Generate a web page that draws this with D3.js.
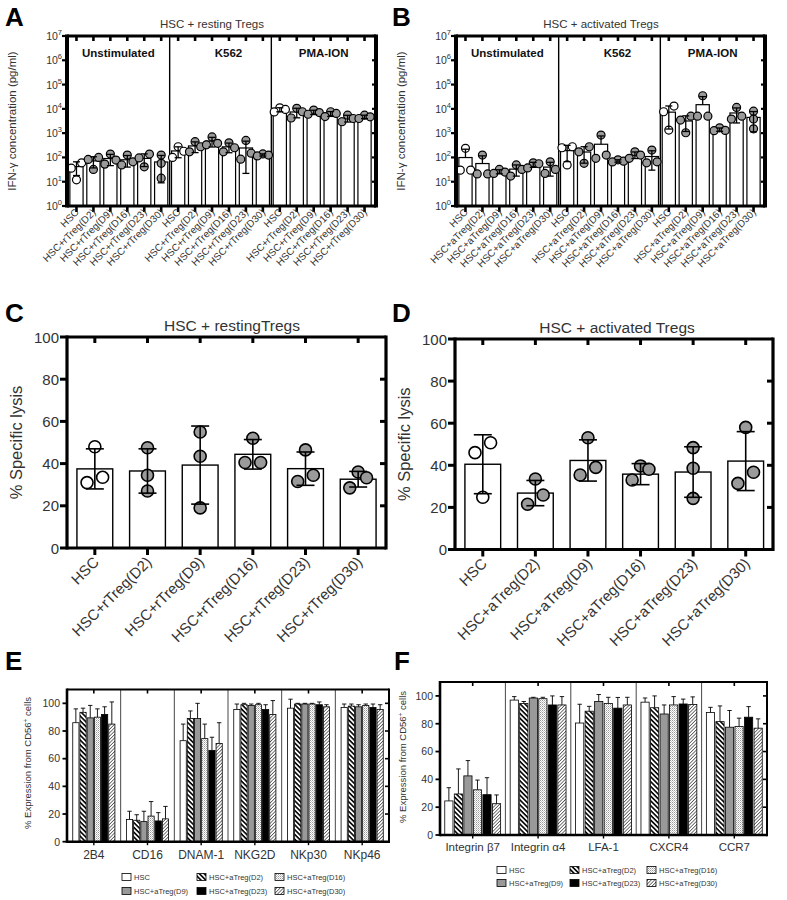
<!DOCTYPE html>
<html><head><meta charset="utf-8">
<script src="https://cdn.jsdelivr.net/npm/d3@7"></script>
<style>
body{margin:0;background:#fff}
svg{display:block}
text{font-family:"Liberation Sans",Arial,Helvetica,sans-serif}
</style>
</head><body>
<svg id="c" width="787" height="900"></svg>
<script>
// ---------------- DATA ----------------
const sections = ["Unstimulated", "K562", "PMA-ION"];
const restLabels = ["HSC","HSC+rTreg(D2)","HSC+rTreg(D9)","HSC+rTreg(D16)","HSC+rTreg(D23)","HSC+rTreg(D30)"];
const actLabels  = ["HSC","HSC+aTreg(D2)","HSC+aTreg(D9)","HSC+aTreg(D16)","HSC+aTreg(D23)","HSC+aTreg(D30)"];
const logTicks = [1, 10, 100, 1e3, 1e4, 1e5, 1e6, 1e7];
const pctTicks = [0, 20, 40, 60, 80, 100];

// Panel A: IFN-γ, HSC + resting Tregs (Unstimulated | K562 | PMA-ION)
const ifnRestMean = [42, 72, 90, 80, 91, 65,  185, 297, 470, 273, 245, 127,  9333, 7433, 7300, 6300, 4150, 4733];
const ifnRestSD   = [24, 35, 44, 40, 49, 56,  88, 139, 201, 117, 223, 13,  1756, 3153, 1473, 1411, 1281, 750];
const ifnRestPts  = [[60,36,12],[100,83,32],[138,53,78],[125,49,66],[138,95,41],[125,57,14],
                     [275,180,100],[445,275,170],[700,380,330],[400,250,170],[500,150,85],[140,125,115],
                     [11000,9500,7500],[10500,4200,7600],[8900,7000,6000],[7600,6500,4800],[5500,4000,2950],[5500,4700,4000]];
// Panel B: IFN-γ, HSC + activated Tregs
const ifnActMean = [99, 56, 26, 33, 51, 40,  191, 167, 349, 72, 129, 109,  7313, 3167, 14867, 1407, 6767, 4433];
const ifnActSD   = [119, 60, 5, 16, 12, 23,  124, 109, 417, 8, 39, 79,  5835, 1996, 17089, 220, 4143, 3296];
const ifnActPts  = [[236,30,30],[125,21,21],[32,25,22],[49,17,32],[60,55,37],[66,22,32],
                    [275,250,49],[275,170,57],[830,125,92],[80,70,65],[170,125,92],[200,66,60],
                    [13000,7600,1340],[5000,3460,1040],[34600,5000,5000],[1660,1260,1300],[11500,3800,5000],[8000,3800,1500]];

// Panel C: % specific lysis, resting Tregs
const lysisRestMean = [37.5, 36.5, 39.3, 44.4, 37.6, 32.6];
const lysisRestSD   = [9.5, 10.5, 18.5, 7, 7.9, 3.7];
const lysisRestPts  = [[48,31,33.5],[47.5,34.5,27],[55,43.5,19],[52,40.5,40.5],[46.5,31.5,34.5],[36,28.5,33.3]];
// Panel D: % specific lysis, activated Tregs
const lysisActMean = [40.5, 26.8, 42.3, 35.8, 36.8, 42];
const lysisActSD   = [14, 6, 9.8, 5, 12, 14];
const lysisActPts  = [[50.7,46,24.8],[33.5,25.9,21.5],[53.1,39,35.4],[39.7,38.1,33],[48.4,38.6,24.3],[58,36.7,31.4]];

// Panel E: NK receptor expression
const seriesNames = ["HSC","HSC+aTreg(D2)","HSC+aTreg(D9)","HSC+aTreg(D16)","HSC+aTreg(D23)","HSC+aTreg(D30)"];
const legendOrder = [0, 1, 3, 2, 4, 5];
const nkMarkers = ["2B4","CD16","DNAM-1","NKG2D","NKp30","NKp46"];
const nkHSC = [86, 16, 73, 95.5, 96.5, 97],    nkHSCsd = [10, 6, 12, 4, 6.5, 2.5];
const nkD2  = [93.5, 15.5, 89, 99, 99.5, 98],  nkD2sd  = [3, 4, 5.5, 1, 0.5, 1.5];
const nkD9  = [89.5, 14.5, 89, 98.5, 99.5, 97.5], nkD9sd = [9, 7.5, 11, 1, 0.5, 1.5];
const nkD16 = [90, 18.5, 74.5, 99, 99.5, 98.5], nkD16sd = [6, 10.5, 10.5, 1, 0.5, 1];
const nkD23 = [92, 15, 66, 95.5, 99, 97],      nkD23sd = [5.5, 6, 9.5, 3.5, 2, 2.5];
const nkD30 = [85, 16.5, 71, 92, 97.5, 95.5],  nkD30sd = [16, 9, 15, 10, 1.5, 3.5];

// Panel F: homing receptor expression
const homeMarkers = ["Integrin β7","Integrin α4","LFA-1","CXCR4","CCR7"];
const hmHSC = [24.5, 97, 80.5, 95.5, 88],  hmHSCsd = [9.5, 2.5, 13.5, 3, 3.8];
const hmD2  = [29.5, 94.5, 89, 91.5, 81.5], hmD2sd = [18, 1.5, 3.5, 8.5, 11.3];
const hmD9  = [42.5, 98.5, 96, 87, 77.5],  hmD9sd  = [11, 0.5, 5, 6.5, 12];
const hmD16 = [32.5, 98, 94.5, 93.5, 78],  hmD16sd = [7, 1, 4.5, 6, 6];
const hmD23 = [29, 93.5, 91.2, 94.2, 84.7], hmD23sd = [12.2, 6.5, 7.7, 3.5, 7.6];
const hmD30 = [22.5, 93.5, 93.5, 93.8, 76.8], hmD30sd = [6.3, 6, 5.5, 5.5, 6.7];

// ---------------- DRAW ----------------
const svg = d3.select("#c");
const TXT = "#333";
const defs = svg.append("defs");
(function(){
  let p = defs.append("pattern").attr("id","pD2").attr("patternUnits","userSpaceOnUse")
    .attr("width",3.4).attr("height",3.4).attr("patternTransform","rotate(45)");
  p.append("rect").attr("width",3.4).attr("height",3.4).attr("fill","#fff");
  p.append("rect").attr("width",3.4).attr("height",1.6).attr("fill","#000");
  p = defs.append("pattern").attr("id","pD30").attr("patternUnits","userSpaceOnUse")
    .attr("width",2.4).attr("height",2.4).attr("patternTransform","rotate(-45)");
  p.append("rect").attr("width",2.4).attr("height",2.4).attr("fill","#fff");
  p.append("rect").attr("width",2.4).attr("height",0.8).attr("fill","#555");
  p = defs.append("pattern").attr("id","pD16").attr("patternUnits","userSpaceOnUse")
    .attr("width",2).attr("height",2);
  p.append("rect").attr("width",2).attr("height",2).attr("fill","#fff");
  p.append("rect").attr("width",1).attr("height",1).attr("fill","#9a9a9a");
  p.append("rect").attr("x",1).attr("y",1).attr("width",1).attr("height",1).attr("fill","#c8c8c8");
})();
const seriesFill = ["#fff","url(#pD2)","#999","url(#pD16)","#000","url(#pD30)"];

function line(g, x1, y1, x2, y2, w, col){
  g.append("line").attr("x1",x1).attr("y1",y1).attr("x2",x2).attr("y2",y2)
    .attr("stroke",col||"#000").attr("stroke-width",w).attr("stroke-linecap","butt");
}
function letter(t, x, y){
  svg.append("text").attr("x",x).attr("y",y).text(t)
    .attr("font-size",26).attr("font-weight","bold").attr("fill","#000");
}

// Spread overlapping points symmetrically around the bar centre (Prism-like)
function jitter(vals, y, r){
  const off = vals.map(()=>0);
  const idx = vals.map((v,i)=>i).sort((a,b)=>vals[b]-vals[a]);
  const py = vals.map(v=>y(v));
  const clusters = [[idx[0]]];
  for (let k=1;k<idx.length;k++){
    if (Math.abs(py[idx[k]]-py[idx[k-1]]) < 2*r*0.95) clusters[clusters.length-1].push(idx[k]);
    else clusters.push([idx[k]]);
  }
  clusters.forEach(c=>{
    if (c.length===2){ off[c[0]] = 1.3*r; off[c[1]] = -1.3*r; }
    else if (c.length===3){ off[c[0]] = 0; off[c[1]] = 1.4*r; off[c[2]] = -1.4*r; }
  });
  return off;
}

// ---------- IFN panels (A, B) ----------
function ifnPanel(o){
  const g = svg.append("g");
  const keys = d3.range(18);
  const x = d3.scaleBand().domain(keys).range(o.xr).paddingInner(0.22).paddingOuter(0.11);
  const y = d3.scaleLog().domain([1, 1e7]).range([o.B, o.T]);
  const bw = x.bandwidth();
  g.selectAll(".bar").data(keys).join("rect")
    .attr("x", i=>x(i)).attr("y", i=>y(o.mean[i])).attr("width", bw)
    .attr("height", i=>o.B - y(o.mean[i]))
    .attr("fill","#fff").attr("stroke","#000").attr("stroke-width",1.2);
  [6, 12].forEach(k=>{
    const xx = (x(k-1) + bw + x(k))/2;
    line(g, xx, o.T, xx, o.B, 1.4);
  });
  sections.forEach((s, si)=>{
    const x0 = si===0 ? o.L : (x(si*6-1)+bw+x(si*6))/2;
    const x1 = si===2 ? o.R : (x(si*6+5)+bw+x(si*6+6))/2;
    g.append("text").attr("x",(x0+x1)/2 + (si===1 ? 8 : 0)).attr("y",o.T+21).attr("text-anchor","middle")
      .attr("font-size",11.5).attr("font-weight","bold").attr("fill","#111").text(s);
  });
  const r = 4;
  keys.forEach(i=>{
    const offs = jitter(o.pts[i], y, r);
    o.pts[i].forEach((v,j)=>{
      g.append("circle").attr("cx", x(i)+bw/2+offs[j]).attr("cy", y(v)).attr("r", r)
        .attr("fill", i%6===0 ? "#fff" : "#9a9a9a").attr("stroke","#000").attr("stroke-width",1.2);
    });
  });
  keys.forEach(i=>{
    const cx = x(i)+bw/2, hi = o.mean[i]+o.sd[i], lo = o.mean[i]-o.sd[i];
    const yHi = y(hi), yLo = lo > 1 ? y(lo) : y(o.mean[i]);
    line(g, cx, yHi, cx, yLo, 1.3);
    line(g, cx-3.5, yHi, cx+3.5, yHi, 1.3);
    if (lo > 1) line(g, cx-3.5, yLo, cx+3.5, yLo, 1.3);
  });
  line(g, o.L, o.T-1.5, o.L, o.B+1.5, 4);
  line(g, o.R, o.T-1.5, o.R, o.B+1.5, 4);
  line(g, o.L, o.T, o.R, o.T, 3);
  line(g, o.L, o.B, o.R, o.B, 3);
  keys.forEach(i=>{
    const cx = x(i)+bw/2;
    line(g, cx, o.B, cx, o.B+6, 2.6);
    line(g, cx, o.T, cx, o.T+5, 2.6);
  });
  logTicks.forEach(t=>{
    line(g, o.L-5, y(t), o.L, y(t), 2.2);
    line(g, o.R, y(t), o.R-4, y(t), 2.2);
    const tx = g.append("text").attr("x", o.L-5).attr("y", y(t)+4).attr("text-anchor","end")
      .attr("font-size",10.5).attr("fill",TXT);
    tx.append("tspan").text("10");
    tx.append("tspan").attr("dy",-5).attr("font-size",7.5).text(Math.round(Math.log10(t)));
  });
  keys.forEach(i=>{
    const cx = x(i)+bw/2 + 3, cy = o.B + 7;
    g.append("text").attr("transform",`translate(${cx},${cy}) rotate(-45)`)
      .attr("text-anchor","end").attr("font-size",10).attr("fill",TXT).text(o.labels[i%6]);
  });
  g.append("text").attr("x",o.titleX).attr("y",28).attr("text-anchor","middle")
    .attr("font-size",11.5).attr("fill",TXT).text(o.title);
  g.append("text").attr("transform",`translate(${o.L-51},${(o.T+o.B)/2}) rotate(-90)`)
    .attr("text-anchor","middle").attr("font-size",11.5).attr("fill",TXT)
    .text("IFN-γ concentration (pg/ml)");
}

ifnPanel({L:67, R:376, T:36, B:206, xr:[68,373], mean:ifnRestMean, sd:ifnRestSD, pts:ifnRestPts,
  labels:restLabels, title:"HSC + resting Tregs", titleX:212});
ifnPanel({L:456, R:765, T:36, B:206, xr:[457,762], mean:ifnActMean, sd:ifnActSD, pts:ifnActPts,
  labels:actLabels, title:"HSC + activated Tregs", titleX:601});
letter("A", 5, 26); letter("B", 392, 26);

// ---------- Lysis panels (C, D) ----------
function lysisPanel(o){
  const g = svg.append("g");
  const x = d3.scaleBand().domain(o.labels).range(o.xr).paddingInner(0.32).paddingOuter(0.16);
  const y = d3.scaleLinear().domain([0,100]).range([o.B, o.T]);
  const bw = x.bandwidth();
  g.selectAll(".bar").data(o.labels).join("rect")
    .attr("x", d=>x(d)).attr("y", (d,i)=>y(o.mean[i])).attr("width", bw)
    .attr("height", (d,i)=>o.B - y(o.mean[i]))
    .attr("fill","#fff").attr("stroke","#000").attr("stroke-width",1.4);
  const r = 6;
  o.labels.forEach((d,i)=>{
    const offs = jitter(o.pts[i], y, r);
    o.pts[i].forEach((v,j)=>{
      g.append("circle").attr("cx", x(d)+bw/2+offs[j]).attr("cy", y(v)).attr("r", r)
        .attr("fill", i===0 ? "#fff" : "#9a9a9a").attr("stroke","#000").attr("stroke-width",1.6);
    });
  });
  o.labels.forEach((d,i)=>{
    const cx = x(d)+bw/2, yHi = y(o.mean[i]+o.sd[i]), yLo = y(o.mean[i]-o.sd[i]);
    line(g, cx, yHi, cx, yLo, 1.6);
    line(g, cx-9, yHi, cx+9, yHi, 1.6);
    line(g, cx-9, yLo, cx+9, yLo, 1.6);
  });
  line(g, o.L, o.T-1.5, o.L, o.B+1.5, 3.2);
  line(g, o.R, o.T-1.5, o.R, o.B+1.5, 3.2);
  line(g, o.L, o.T, o.R, o.T, 3.2);
  line(g, o.L, o.B, o.R, o.B, 3.2);
  o.labels.forEach(d=>{
    const cx = x(d)+bw/2;
    line(g, cx, o.B, cx, o.B+7, 3);
    line(g, cx, o.T, cx, o.T+6, 3);
    g.append("text").attr("transform",`translate(${cx+5},${o.B+15}) rotate(-45)`)
      .attr("text-anchor","end").attr("font-size",15).attr("fill",TXT).text(d);
  });
  pctTicks.forEach(t=>{
    line(g, o.L-7, y(t), o.L, y(t), 3);
    if (t>0 && t<100) line(g, o.R, y(t), o.R-6, y(t), 3);
    g.append("text").attr("x", o.L-8).attr("y", y(t)+5.5).attr("text-anchor","end")
      .attr("font-size",15).attr("fill",TXT).text(t);
  });
  g.append("text").attr("x",o.titleX).attr("y",o.T-6).attr("text-anchor","middle")
    .attr("font-size",15.5).attr("fill",TXT).text(o.title);
  g.append("text").attr("transform",`translate(${o.L-45},${(o.T+o.B)/2}) rotate(-90)`)
    .attr("text-anchor","middle").attr("font-size",16.5).attr("fill",TXT).text("% Specific lysis");
}
lysisPanel({L:67, R:386, T:337, B:548, xr:[68.5,384.5], mean:lysisRestMean, sd:lysisRestSD, pts:lysisRestPts,
  labels:restLabels, title:"HSC + restingTregs", titleX:232});
lysisPanel({L:455, R:773, T:339, B:549.5, xr:[456.5,772], mean:lysisActMean, sd:lysisActSD, pts:lysisActPts,
  labels:actLabels, title:"HSC + activated Tregs", titleX:617});
letter("C", 5, 322); letter("D", 392, 322);

// ---------- Expression panels (E, F) ----------
function exprPanel(o){
  const g = svg.append("g");
  const x0 = d3.scaleBand().domain(o.markers).range([o.L, o.R]).padding(0);
  const x1 = d3.scaleBand().domain(d3.range(6)).range([0, x0.bandwidth()])
    .paddingInner(o.pi).paddingOuter(o.po);
  const y = d3.scaleLinear().domain([0,110]).range([o.B, o.T]);
  const bw = x1.bandwidth();
  o.markers.slice(1).forEach(m=>line(g, x0(m), o.T, x0(m), o.B, 0.9, "#333"));
  o.series.forEach((s, si)=>{
    o.markers.forEach((m, mi)=>{
      const bx = x0(m) + x1(si), v = s.mean[mi], e = v + s.sd[mi];
      const cx = bx + bw/2;
      line(g, cx, y(v), cx, y(e), 0.9);
      line(g, cx-2.2, y(e), cx+2.2, y(e), 0.9);
      g.append("rect").attr("x", bx).attr("y", y(v)).attr("width", bw).attr("height", o.B - y(v))
        .attr("fill", seriesFill[si]).attr("stroke","#000").attr("stroke-width",0.8);
    });
  });
  line(g, o.L, o.T-1, o.L, o.B+1.2, 2.6);
  line(g, o.R, o.T-1, o.R, o.B+1.2, 2);
  line(g, o.L, o.T, o.R, o.T, 2);
  line(g, o.L, o.B, o.R, o.B, 2.6);
  o.markers.forEach(m=>{
    const cx = x0(m) + x0.bandwidth()/2;
    line(g, cx, o.T, cx, o.T+4, 1.6);
    line(g, cx, o.B, cx, o.B+3.5, 1.4);
    g.append("text").attr("x", cx).attr("y", o.labelY).attr("text-anchor","middle")
      .attr("font-size",o.labelFs).attr("fill",TXT).text(m);
  });
  pctTicks.forEach(t=>{
    line(g, o.L-4.5, y(t), o.L, y(t), 1.8);
    if (t>0) line(g, o.R, y(t), o.R-4, y(t), 1.6);
    g.append("text").attr("x", o.L-7).attr("y", y(t)+3.8).attr("text-anchor","end")
      .attr("font-size",10.5).attr("fill",TXT).text(t);
  });
  const yl = g.append("text").attr("transform",`translate(${o.ylX},${o.ylY}) rotate(-90)`)
    .attr("text-anchor","middle").attr("font-size",9.5).attr("fill",TXT);
  yl.append("tspan").text("% Expression from CD56");
  yl.append("tspan").attr("dy",-3.5).attr("font-size",6.5).text("+");
  yl.append("tspan").attr("dy",3.5).text(" cells");
  legendOrder.forEach((si, k)=>{
    const col = k % 3, row = Math.floor(k/3);
    const lx = o.legX[col], ly = o.legY[row];
    g.append("rect").attr("x", lx).attr("y", ly-3.5).attr("width", 9).attr("height", 7)
      .attr("fill", seriesFill[si]).attr("stroke","#000").attr("stroke-width",0.8);
    g.append("text").attr("x", lx+12).attr("y", ly+2.7).attr("font-size",7.5).attr("fill",TXT)
      .text(seriesNames[si]);
  });
}
exprPanel({L:67, R:389, T:689.5, B:841.7, markers:nkMarkers, pi:0.14, po:0.8,
  series:[{mean:nkHSC,sd:nkHSCsd},{mean:nkD2,sd:nkD2sd},{mean:nkD9,sd:nkD9sd},
          {mean:nkD16,sd:nkD16sd},{mean:nkD23,sd:nkD23sd},{mean:nkD30,sd:nkD30sd}],
  labelY:859, labelFs:12, ylX:31, ylY:763, legX:[122,197,275], legY:[877,891]});
exprPanel({L:440, R:767, T:682, B:835, markers:homeMarkers, pi:0.14, po:0.5,
  series:[{mean:hmHSC,sd:hmHSCsd},{mean:hmD2,sd:hmD2sd},{mean:hmD9,sd:hmD9sd},
          {mean:hmD16,sd:hmD16sd},{mean:hmD23,sd:hmD23sd},{mean:hmD30,sd:hmD30sd}],
  labelY:851, labelFs:11.5, ylX:406, ylY:757, legX:[497,570,647], legY:[870,883]});
letter("E", 5, 670); letter("F", 394, 670);
</script>
</body></html>
